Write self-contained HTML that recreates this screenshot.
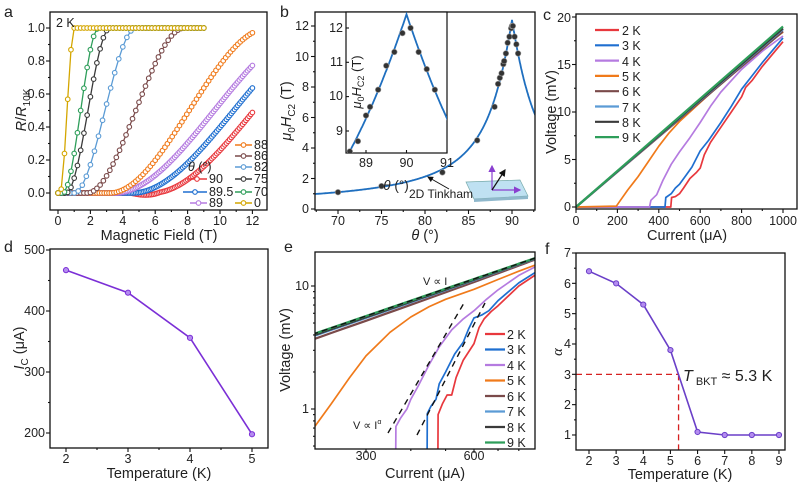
<!DOCTYPE html>
<html><head><meta charset="utf-8"><style>
body{margin:0;background:#fff}
svg{display:block;font-family:"Liberation Sans",sans-serif}
text{fill:#222}
.t{font-size:12.5px}
.l{font-size:14.5px}
.p{font-size:16px}
</style></head><body>
<svg id="s" width="800" height="485" viewBox="0 0 800 485" xmlns="http://www.w3.org/2000/svg">
<defs>
<clipPath id="ca"><rect x="50" y="12" width="217" height="198"/></clipPath>
<clipPath id="cb"><rect x="315" y="12" width="220" height="198"/></clipPath>
<clipPath id="cbi"><rect x="346" y="12" width="101" height="141"/></clipPath>
<clipPath id="cc"><rect x="576" y="14" width="221" height="195"/></clipPath>
<clipPath id="ce"><rect x="315" y="252" width="220" height="197"/></clipPath>
<marker id="ah" markerWidth="6" markerHeight="6" refX="5" refY="3" orient="auto"><path d="M0,0 L6,3 L0,6z" fill="#111"/></marker>
<marker id="ap" markerWidth="6" markerHeight="6" refX="5" refY="3" orient="auto"><path d="M0,0 L6,3 L0,6z" fill="#8a3fd0"/></marker>
</defs>
<g id="G"></g>

<!-- panel letters -->
<text class="p" x="4" y="17">a</text>
<text class="p" x="280" y="17">b</text>
<text class="p" x="543" y="20">c</text>
<text class="p" x="4" y="252">d</text>
<text class="p" x="284" y="252">e</text>
<text class="p" x="545" y="254">f</text>

<!-- panel a text -->
<text class="t" x="56" y="27">2 K</text>
<g class="t" text-anchor="end">
<text x="45" y="197">0.0</text><text x="45" y="164">0.2</text><text x="45" y="131">0.4</text>
<text x="45" y="98">0.6</text><text x="45" y="65">0.8</text><text x="45" y="32">1.0</text>
</g>
<g class="t" text-anchor="middle">
<text x="58" y="225">0</text><text x="90.4" y="225">2</text><text x="122.8" y="225">4</text>
<text x="155.2" y="225">6</text><text x="187.6" y="225">8</text><text x="220" y="225">10</text><text x="252.4" y="225">12</text>
</g>
<text class="l" x="159" y="240" text-anchor="middle">Magnetic Field (T)</text>
<text class="l" transform="translate(26,110) rotate(-90)" text-anchor="middle"><tspan font-style="italic">R</tspan>/<tspan font-style="italic">R</tspan><tspan font-size="10" dy="4">10K</tspan></text>
<g class="t">
<text x="254" y="149">88</text><text x="254" y="160">86</text><text x="254" y="171">82</text>
<text x="254" y="183">75</text><text x="254" y="196">70</text><text x="254" y="207">0</text>
<text x="188" y="171"><tspan font-style="italic">θ</tspan> (°)</text>
<text x="209" y="183">90</text><text x="209" y="196">89.5</text><text x="209" y="207">89</text>
</g>

<!-- panel b text -->
<g class="t" text-anchor="end">
<text x="309" y="213">0</text><text x="309" y="183">2</text><text x="309" y="152">4</text>
<text x="309" y="122">6</text><text x="309" y="91">8</text><text x="309" y="61">10</text><text x="309" y="30">12</text>
</g>
<g class="t" text-anchor="middle">
<text x="338" y="225">70</text><text x="381.5" y="225">75</text><text x="425" y="225">80</text>
<text x="468.5" y="225">85</text><text x="512" y="225">90</text>
</g>
<text class="l" x="425" y="240" text-anchor="middle"><tspan font-style="italic">θ</tspan> (°)</text>
<text class="l" transform="translate(291,111) rotate(-90)" text-anchor="middle"><tspan font-style="italic">μ</tspan><tspan font-size="10" dy="4">0</tspan><tspan dy="-4" font-style="italic">H</tspan><tspan font-size="10" dy="4">C2</tspan><tspan dy="-4"> (T)</tspan></text>
<g class="t" text-anchor="end" font-size="12">
<text x="343" y="32">12</text><text x="343" y="66">11</text><text x="343" y="100">10</text><text x="343" y="135">9</text>
</g>
<g class="t" text-anchor="middle" font-size="12">
<text x="366" y="167">89</text><text x="406.5" y="167">90</text><text x="447" y="167">91</text>
</g>
<text x="396" y="190" font-size="13.5" text-anchor="middle"><tspan font-style="italic">θ</tspan> (°)</text>
<text transform="translate(361,82) rotate(-90)" font-size="13" text-anchor="middle"><tspan font-style="italic">μ</tspan><tspan font-size="9" dy="3">0</tspan><tspan dy="-3" font-style="italic">H</tspan><tspan font-size="9" dy="3">C2</tspan><tspan dy="-3"> (T)</tspan></text>
<text x="409" y="198" font-size="12">2D Tinkham</text>

<!-- panel c text -->
<g class="t" text-anchor="end">
<text x="571" y="211">0</text><text x="571" y="164">5</text><text x="571" y="116">10</text>
<text x="571" y="69">15</text><text x="571" y="22">20</text>
</g>
<g class="t" text-anchor="middle">
<text x="576" y="225">0</text><text x="617.4" y="225">200</text><text x="658.8" y="225">400</text>
<text x="700.2" y="225">600</text><text x="741.6" y="225">800</text><text x="783" y="225">1000</text>
</g>
<text class="l" x="687" y="240" text-anchor="middle">Current (μA)</text>
<text class="l" transform="translate(556,112) rotate(-90)" text-anchor="middle">Voltage (mV)</text>
<g class="t" font-size="13">
<text x="622" y="35">2 K</text><text x="622" y="50">3 K</text><text x="622" y="66">4 K</text>
<text x="622" y="81">5 K</text><text x="622" y="96">6 K</text><text x="622" y="112">7 K</text>
<text x="622" y="127">8 K</text><text x="622" y="142">9 K</text>
</g>

<!-- panel d text -->
<g class="t" text-anchor="end">
<text x="45" y="254">500</text><text x="45" y="315">400</text><text x="45" y="376">300</text><text x="45" y="437">200</text>
</g>
<g class="t" text-anchor="middle">
<text x="66" y="463">2</text><text x="128" y="463">3</text><text x="190" y="463">4</text><text x="252" y="463">5</text>
</g>
<text class="l" x="159" y="478" text-anchor="middle">Temperature (K)</text>
<text class="l" transform="translate(24,348) rotate(-90)" text-anchor="middle"><tspan font-style="italic">I</tspan><tspan font-size="10" dy="4">C</tspan><tspan dy="-4"> (μA)</tspan></text>

<!-- panel e text -->
<g class="t" text-anchor="end">
<text x="309" y="290">10</text><text x="309" y="413">1</text>
</g>
<g class="t" text-anchor="middle">
<text x="366" y="460">300</text><text x="474" y="460">600</text>
</g>
<text class="l" x="425" y="478" text-anchor="middle">Current (μA)</text>
<text class="l" transform="translate(290,350) rotate(-90)" text-anchor="middle">Voltage (mV)</text>
<text x="423" y="285" font-size="11">V ∝ I</text>
<text x="353" y="429" font-size="11">V ∝ I<tspan font-size="7" dy="-5">α</tspan></text>
<g class="t" font-size="13">
<text x="507" y="339">2 K</text><text x="507" y="354">3 K</text><text x="507" y="370">4 K</text>
<text x="507" y="385">5 K</text><text x="507" y="401">6 K</text><text x="507" y="416">7 K</text>
<text x="507" y="432">8 K</text><text x="507" y="447">9 K</text>
</g>

<!-- panel f text -->
<g class="t" text-anchor="end">
<text x="571" y="439">1</text><text x="571" y="409">2</text><text x="571" y="379">3</text><text x="571" y="348">4</text>
<text x="571" y="318">5</text><text x="571" y="288">6</text><text x="571" y="257">7</text>
</g>
<g class="t" text-anchor="middle">
<text x="589" y="465">2</text><text x="616.1" y="465">3</text><text x="643.3" y="465">4</text><text x="670.4" y="465">5</text>
<text x="697.6" y="465">6</text><text x="724.7" y="465">7</text><text x="751.8" y="465">8</text><text x="779" y="465">9</text>
</g>
<text class="l" x="680" y="479" text-anchor="middle">Temperature (K)</text>
<text class="l" transform="translate(562,352) rotate(-90)" text-anchor="middle" font-style="italic" font-family="Liberation Serif, serif">α</text>
<text x="683" y="381" font-size="16"><tspan font-style="italic">T</tspan><tspan font-size="11" dy="4"> BKT</tspan><tspan dy="-4"> ≈ 5.3 K</tspan></text>
</svg>
<script>
const NS='http://www.w3.org/2000/svg';
const G=document.getElementById('G');
function el(tag,a,p){const e=document.createElementNS(NS,tag);for(const k in a)e.setAttribute(k,a[k]);(p||G).appendChild(e);return e;}
function pl(pts,a,p){return el('polyline',Object.assign({points:pts.map(q=>q[0].toFixed(1)+','+q[1].toFixed(1)).join(' '),fill:'none'},a),p);}
function box(x0,y0,x1,y1){el('rect',{x:x0,y:y0,width:x1-x0,height:y1-y0,fill:'none',stroke:'#111','stroke-width':1.3});}
function xt(xs,y,len){xs.forEach(x=>el('line',{x1:x,y1:y,x2:x,y2:y+len,stroke:'#111','stroke-width':1.1}));}
function yt(ys,x,len){ys.forEach(y=>el('line',{x1:x,y1:y,x2:x-len,y2:y,stroke:'#111','stroke-width':1.1}));}
function rng(a,b,s){const r=[];for(let v=a;v<=b+1e-9;v+=s)r.push(v);return r;}
function gp(clip){return el('g',{'clip-path':'url(#'+clip+')'});}

/* ---------- panel a ---------- */
{
const X=h=>58+16.2*h, Y=r=>193-165*r;
const g=gp('ca');
const sets=[
 ['90','#e8383d',5.8,18.4,12,0.1],['89.5','#1f6fd0',4.6,17.1,12,0.1],['89','#b57be0',3.5,15.8,12,0.1],
 ['88','#f07a1a',3.2,13,12,0.15],['86','#7a4a4a',1.8,7.8,9,0.2],['82','#5b9bd5',1.0,4.8,9,0.25],
 ['75','#3a3a3a',0.5,3.2,9,0.2],['70','#2e9e5a',0.3,2.5,9,0.2],['0','#d4a600',0.12,1.0,9,0.2]];
sets.forEach(s=>{
 const [n,c,h0,h1,hm,st]=s;const pts=[];
 for(let h=0;h<=hm+1e-9;h+=st){let t=Math.max(0,Math.min(1,(h-h0)/(h1-h0)));let r=t*t*(3-2*t);if(n==='90'&&h>4.5&&h<6.3)r-=0.012*Math.sin((h-4.5)/1.8*Math.PI);pts.push([X(h),Y(r)]);}
 pl(pts,{stroke:c,'stroke-width':1.3},g);
 pts.forEach(p=>el('circle',{cx:p[0],cy:p[1],r:2.3,fill:'#fff',stroke:c,'stroke-width':1.1},g));
});
box(50,12,267,210);
xt(rng(58,253,32.4),210,4);xt(rng(74.2,253,32.4),210,2);
yt(rng(28,193.5,33),50,4);yt(rng(44.5,193,33),50,2);
const leg=[[235,252,145,'#f07a1a'],[235,252,156,'#7a4a4a'],[235,252,167,'#5b9bd5'],[235,252,179,'#3a3a3a'],[235,252,192,'#2e9e5a'],[235,252,203,'#d4a600'],
 [187,207,179,'#e8383d'],[183,207,192,'#1f6fd0'],[190,207,203,'#b57be0']];
leg.forEach(l=>{el('line',{x1:l[0],y1:l[2],x2:l[1],y2:l[2],stroke:l[3],'stroke-width':1.5});el('circle',{cx:(l[0]+l[1])/2,cy:l[2],r:2.3,fill:'#fff',stroke:l[3],'stroke-width':1.1});});
}

/* ---------- panel b ---------- */
{
const Hp=12.4,Hs=0.38;
function T(th){const r=th*Math.PI/180;const a=Math.abs(Math.cos(r))/Hs,b=Math.pow(Math.sin(r)/Hp,2);return (-a+Math.sqrt(a*a+4*b))/(2*b);}
const X=t=>338+8.7*(t-70), Y=h=>209-15.25*h;
const g=gp('cb');
const pts=[];for(let t=67;t<=93;t+=0.05)pts.push([X(t),Y(T(t))]);
pl(pts,{stroke:'#1f6fbf','stroke-width':1.8},g);
const dat=[[70,1.1],[75,1.5],[82,2.4],[86,4.5],[88,6.7],[88.4,8.2],[88.6,8.6],[88.8,8.9],[89,9.5],[89.1,9.7],[89.3,10.2],[89.5,10.9],[89.7,11.3],[89.9,11.85],[90,12.0],[90.1,12.0],[90.3,11.3],[90.5,10.8],[90.7,10.2]];
dat.forEach(d=>el('circle',{cx:X(d[0]),cy:Y(d[1]),r:2.8,fill:'#333',stroke:'#999','stroke-width':0.6},g));
box(315,12,535,210);
xt(rng(338,535,43.5),210,4);xt(rng(316.25,535,43.5),210,2);
yt(rng(26,209.5,30.5),315,4);yt(rng(41.25,209,30.5),315,2);
// inset
el('rect',{x:346,y:12,width:101,height:141,fill:'#fff',stroke:'#111','stroke-width':1.2});
const Xi=t=>406.5+40.5*(t-90), Yi=h=>28+34.3*(12-h);
const gi=gp('cbi');
const pi=[];for(let t=88.4;t<=91.2;t+=0.01)pi.push([Xi(t),Yi(T(t))]);
pl(pi,{stroke:'#1f6fbf','stroke-width':1.8},gi);
[[88.6,8.4],[88.8,8.7],[89,9.45],[89.1,9.7],[89.3,10.2],[89.5,10.9],[89.7,11.3],[89.9,11.85],[90.1,12.0],[90.3,11.3],[90.5,10.8],[90.7,10.2]].forEach(d=>el('circle',{cx:Xi(d[0]),cy:Yi(d[1]),r:2.8,fill:'#333',stroke:'#999','stroke-width':0.6},gi));
xt([366,406.5,447],153,-3);yt([28,62.3,96.6,131],346,-3);
// arrow
el('line',{x1:449,y1:189,x2:428,y2:177,stroke:'#111','stroke-width':1,'marker-end':'url(#ah)'});
// schematic
el('path',{d:'M466,182 L520,180 L528,196 L474,199 Z',fill:'#bfe1f2',stroke:'#7aa', 'stroke-width':0.7});
el('path',{d:'M474,199 L528,196 L528,199 L474,202 Z',fill:'#8fb8cc'});
el('line',{x1:492,y1:190,x2:492,y2:166,stroke:'#8a3fd0','stroke-width':1.2,'marker-end':'url(#ap)'});
el('line',{x1:492,y1:190,x2:520,y2:190,stroke:'#8a3fd0','stroke-width':1.2,'marker-end':'url(#ap)'});
el('line',{x1:492,y1:190,x2:505,y2:170,stroke:'#111','stroke-width':1.2,'marker-end':'url(#ah)'});
}

/* ---------- curves for c/e ---------- */
const cols={2:'#e8383d',3:'#1f6fd0',4:'#b57be0',5:'#f07a1a',6:'#7a4a4a',7:'#5b9bd5',8:'#3a3a3a',9:'#2e9e5a'};
{
const X=i=>576+0.207*i, Y=v=>207-9.5*v;
const g=gp('cc');
const D={
2:[[0,0],[458,0],[462,1],[480,1.1],[500,1.4],[520,2],[550,3],[580,3.6],[600,4.1],[620,5.5],[650,6.8],[700,8.4],[750,10],[800,11.6],[820,12.6],[850,13.3],[900,14.8],[1000,17.4]],
3:[[0,0],[430,0],[434,1],[460,1.4],[480,2],[500,2.4],[530,3.3],[560,4.2],[600,5.9],[640,7],[700,8.9],[750,10.6],[800,12.4],[850,13.8],[900,15.2],[1000,17.8]],
4:[[0,0],[355,0],[362,0.7],[390,1.3],[420,2.8],[460,4.5],[500,5.8],[550,7.3],[600,8.9],[650,10.6],[700,12.1],[800,14.5],[900,16.4],[1000,18]],
5:[[0,0],[195,0.1],[205,0.4],[250,1.8],[300,3.2],[350,4.8],[400,6.4],[450,7.8],[500,9],[600,11],[700,13],[800,15],[900,16.8],[1000,18.4]],
6:[[0,0],[1000,18.5]],7:[[0,0],[1000,18.7]],8:[[0,0],[1000,18.8]],9:[[0,0],[1000,19]]};
[2,3,4,5,6,7,8,9].forEach(k=>pl(D[k].map(p=>[X(p[0]),Y(p[1])]),{stroke:cols[k],'stroke-width':k>=6?2.2:1.7,'stroke-linejoin':'round'},g));
box(576,14,797,209);
xt(rng(576,784,41.4),209,4);xt(rng(596.7,784,41.4),209,2);
yt(rng(17,207.5,47.5),576,4);yt(rng(40.75,207,47.5),576,2);
[2,3,4,5,6,7,8,9].forEach((k,i)=>el('line',{x1:595,y1:30+15.3*i,x2:619,y2:30+15.3*i,stroke:cols[k],'stroke-width':2.2}));
}

/* ---------- panel d ---------- */
{
const X=t=>66+62*(t-2), Y=i=>250+(500-i)*0.61;
const d=[[2,467],[3,430],[4,356],[5,198]].map(p=>[X(p[0]),Y(p[1])]);
pl(d,{stroke:'#7b2fd6','stroke-width':1.6});
d.forEach(p=>el('circle',{cx:p[0],cy:p[1],r:2.6,fill:'#b48cf0',stroke:'#7b2fd6','stroke-width':1}));
box(50,249,268,448);
xt([66,128,190,252],448,4);xt([97,159,221],448,2);
yt([250,311,372,433],50,4);yt([280.5,341.5,402.5],50,2);
}

/* ---------- panel e ---------- */
{
const X=i=>366+108*Math.log2(i/300), Y=v=>409-123*Math.log10(v);
const g=gp('ce');
const lin=(k,a)=>rng(200,900,20).map(i=>[i,k*i*(a?1-a*(900-i)/700:1)]);
const D={
9:lin(0.019),8:lin(0.0189,0.02),7:lin(0.0188,0.03),6:lin(0.0185,0.07),
5:[[205,0.6],[216,0.72],[240,1.1],[270,1.8],[300,2.7],[350,4.2],[400,5.6],[450,6.8],[500,7.8],[600,9.4],[700,11.3],[800,13.2],[900,15]],
4:[[363,0.4],[363.5,0.72],[375,0.85],[390,1.0],[400,1.2],[420,1.55],[450,2.3],[480,3.2],[520,4.4],[560,5.4],[600,6.3],[650,7.8],[700,9.3],[800,12.2],[900,14.6]],
3:[[444,0.4],[444.5,0.92],[455,1.05],[470,1.2],[480,1.6],[500,2.0],[530,2.8],[560,3.5],[580,4.5],[600,5.5],[630,5.8],[660,6.3],[700,7.6],[800,10.6],[900,13.2]],
2:[[476,0.4],[476.5,0.9],[490,1.1],[505,1.3],[520,1.3],[535,1.8],[560,2.5],[600,3.4],[620,4.6],[640,5.4],[670,6.2],[700,6.9],[800,10],[900,12.6]]};
[2,3,4,5,6,7,8,9].forEach(k=>pl(D[k].map(p=>[X(p[0]),Y(p[1])]),{stroke:cols[k],'stroke-width':k>=6?2.2:1.7,'stroke-linejoin':'round'},g));
pl(rng(200,900,20).map(i=>[X(i),Y(0.019*i)]),{stroke:'#111','stroke-width':1.4,'stroke-dasharray':'6,4'},g);
el('line',{x1:388,y1:433,x2:464,y2:303,stroke:'#111','stroke-width':1.4,'stroke-dasharray':'6,5'},g);
el('line',{x1:417,y1:435,x2:485,y2:303,stroke:'#111','stroke-width':1.4,'stroke-dasharray':'6,5'},g);
box(315,252,535,449);
xt([366,474],449,4);
const mx=[];for(let i=200;i<=900;i+=100){if(i!==300&&i!==600)mx.push(X(i));}xt(mx.filter(x=>x>315&&x<535),449,2);
yt([286,409],315,4);
const my=[];[0.5,0.6,0.7,0.8,0.9,2,3,4,5,6,7,8,9].forEach(v=>my.push(Y(v)));yt(my.filter(y=>y>252&&y<449),315,2);
[2,3,4,5,6,7,8,9].forEach((k,i)=>{const y=334+15.5*i;el('line',{x1:485,y1:y,x2:505,y2:y,stroke:cols[k],'stroke-width':2.2});});
}

/* ---------- panel f ---------- */
{
const X=t=>589+27.14*(t-2), Y=a=>435-30.33*(a-1);
el('line',{x1:576,y1:Y(3),x2:X(5.3),y2:Y(3),stroke:'#d62020','stroke-width':1.3,'stroke-dasharray':'6,4'});
el('line',{x1:X(5.3),y1:Y(3),x2:X(5.3),y2:450,stroke:'#d62020','stroke-width':1.3,'stroke-dasharray':'6,4'});
const d=[[2,6.4],[3,6.0],[4,5.3],[5,3.8],[6,1.1],[7,1.0],[8,1.0],[9,1.0]].map(p=>[X(p[0]),Y(p[1])]);
pl(d,{stroke:'#6a3fc8','stroke-width':1.6});
d.forEach(p=>el('circle',{cx:p[0],cy:p[1],r:2.6,fill:'#b48cf0',stroke:'#6a3fc8','stroke-width':1}));
box(576,253,785,450);
xt(rng(589,780,27.14),450,4);
yt(rng(253,436,30.33),576,4);yt(rng(268.2,436,30.33),576,2);
}
</script>
</body></html>
